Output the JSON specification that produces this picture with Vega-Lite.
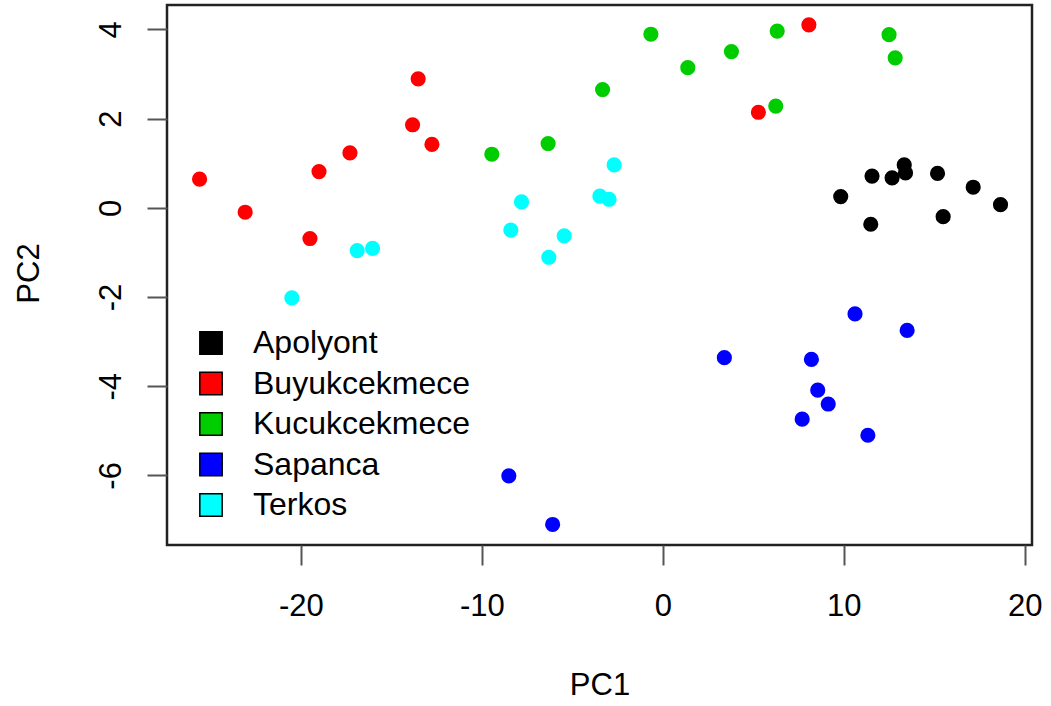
{
  "$schema": "https://vega.github.io/schema/vega-lite/v6.json",
  "width": 865,
  "height": 540,
  "autosize": {"type": "none"},
  "padding": {"left": 167, "top": 5, "right": 19, "bottom": 161},
  "background": "white",
  "config": {
    "font": "Liberation Sans",
    "view": {"stroke": "#222222", "strokeWidth": 2.5},
    "axis": {
      "domain": false,
      "grid": false,
      "tickSize": 20,
      "tickWidth": 2,
      "tickColor": "#555555",
      "labelFont": "Liberation Sans",
      "labelFontSize": 31,
      "labelColor": "#000000",
      "labelExpr": "'' + datum.value",
      "titleFont": "Liberation Sans",
      "titleFontSize": 31,
      "titleFontWeight": "normal",
      "titleColor": "#000000"
    }
  },
  "data": {
    "values": [
      {"group": "Apolyont", "PC1": 9.83, "PC2": 0.25},
      {"group": "Apolyont", "PC1": 11.56, "PC2": 0.71},
      {"group": "Apolyont", "PC1": 11.49, "PC2": -0.37},
      {"group": "Apolyont", "PC1": 12.67, "PC2": 0.67},
      {"group": "Apolyont", "PC1": 13.34, "PC2": 0.96},
      {"group": "Apolyont", "PC1": 13.41, "PC2": 0.78},
      {"group": "Apolyont", "PC1": 15.18, "PC2": 0.77},
      {"group": "Apolyont", "PC1": 17.15, "PC2": 0.46},
      {"group": "Apolyont", "PC1": 15.49, "PC2": -0.2},
      {"group": "Apolyont", "PC1": 18.66, "PC2": 0.07},
      {"group": "Buyukcekmece", "PC1": -25.6, "PC2": 0.64},
      {"group": "Buyukcekmece", "PC1": -23.08, "PC2": -0.1},
      {"group": "Buyukcekmece", "PC1": -19.0, "PC2": 0.81},
      {"group": "Buyukcekmece", "PC1": -19.5, "PC2": -0.69},
      {"group": "Buyukcekmece", "PC1": -17.29, "PC2": 1.23},
      {"group": "Buyukcekmece", "PC1": -13.52, "PC2": 2.89},
      {"group": "Buyukcekmece", "PC1": -13.83, "PC2": 1.86},
      {"group": "Buyukcekmece", "PC1": -12.76, "PC2": 1.42},
      {"group": "Buyukcekmece", "PC1": 8.07, "PC2": 4.1},
      {"group": "Buyukcekmece", "PC1": 5.28, "PC2": 2.14},
      {"group": "Kucukcekmece", "PC1": -9.45, "PC2": 1.2},
      {"group": "Kucukcekmece", "PC1": -6.34, "PC2": 1.44},
      {"group": "Kucukcekmece", "PC1": -3.33, "PC2": 2.65},
      {"group": "Kucukcekmece", "PC1": -0.66, "PC2": 3.89},
      {"group": "Kucukcekmece", "PC1": 1.38, "PC2": 3.14},
      {"group": "Kucukcekmece", "PC1": 3.79, "PC2": 3.5},
      {"group": "Kucukcekmece", "PC1": 6.32, "PC2": 3.96},
      {"group": "Kucukcekmece", "PC1": 12.5, "PC2": 3.88},
      {"group": "Kucukcekmece", "PC1": 12.84, "PC2": 3.36},
      {"group": "Kucukcekmece", "PC1": 6.24, "PC2": 2.28},
      {"group": "Sapanca", "PC1": -8.51, "PC2": -6.01},
      {"group": "Sapanca", "PC1": -6.09, "PC2": -7.1},
      {"group": "Sapanca", "PC1": 3.4, "PC2": -3.36},
      {"group": "Sapanca", "PC1": 8.21, "PC2": -3.4},
      {"group": "Sapanca", "PC1": 10.62, "PC2": -2.38},
      {"group": "Sapanca", "PC1": 13.5, "PC2": -2.75},
      {"group": "Sapanca", "PC1": 8.56, "PC2": -4.09},
      {"group": "Sapanca", "PC1": 9.14, "PC2": -4.4},
      {"group": "Sapanca", "PC1": 7.7, "PC2": -4.74},
      {"group": "Sapanca", "PC1": 11.33, "PC2": -5.1},
      {"group": "Terkos", "PC1": -2.69, "PC2": 0.96},
      {"group": "Terkos", "PC1": -7.81, "PC2": 0.13},
      {"group": "Terkos", "PC1": -3.48, "PC2": 0.26},
      {"group": "Terkos", "PC1": -2.97, "PC2": 0.19},
      {"group": "Terkos", "PC1": -8.4, "PC2": -0.5},
      {"group": "Terkos", "PC1": -5.45, "PC2": -0.63},
      {"group": "Terkos", "PC1": -6.3, "PC2": -1.11},
      {"group": "Terkos", "PC1": -16.89, "PC2": -0.96},
      {"group": "Terkos", "PC1": -16.04, "PC2": -0.91},
      {"group": "Terkos", "PC1": -20.5, "PC2": -2.02}
    ]
  },
  "mark": {"type": "point", "filled": true, "shape": "circle", "size": 230, "opacity": 1},
  "encoding": {
    "x": {
      "field": "PC1",
      "type": "quantitative",
      "scale": {"domain": [-27.4, 20.4], "nice": false, "zero": false},
      "axis": {
        "values": [-20, -10, 0, 10, 20],
        "labelPadding": 26,
        "labelBaseline": "top",
        "labelAlign": "center",
        "labelFlush": false,
        "labelOverlap": false,
        "title": "PC1",
        "titleBaseline": "top",
        "titleY": 125
      }
    },
    "y": {
      "field": "PC2",
      "type": "quantitative",
      "scale": {"domain": [-7.56, 4.545], "nice": false, "zero": false},
      "axis": {
        "values": [-6, -4, -2, 0, 2, 4],
        "labelAngle": -90,
        "labelAlign": "center",
        "labelBaseline": "alphabetic",
        "labelPadding": 27,
        "labelFlush": false,
        "labelOverlap": false,
        "title": "PC2",
        "titleAngle": -90,
        "titleAlign": "center",
        "titleBaseline": "alphabetic",
        "titleX": -129,
        "titleY": 268
      }
    },
    "color": {
      "field": "group",
      "type": "nominal",
      "scale": {
        "domain": ["Apolyont", "Buyukcekmece", "Kucukcekmece", "Sapanca", "Terkos"],
        "range": ["#000000", "#FF0000", "#00CD00", "#0000FF", "#00FFFF"]
      },
      "legend": {
        "title": null,
        "orient": "none",
        "legendX": 28,
        "legendY": 322,
        "padding": 0,
        "symbolType": "square",
        "symbolSize": 500,
        "symbolStrokeColor": "#000000",
        "symbolStrokeWidth": 1.5,
        "symbolOpacity": 1,
        "labelFont": "Liberation Sans",
        "labelFontSize": 32,
        "labelColor": "#000000",
        "labelOffset": 26,
        "labelLimit": 500,
        "rowPadding": 8.5
      }
    }
  }
}
